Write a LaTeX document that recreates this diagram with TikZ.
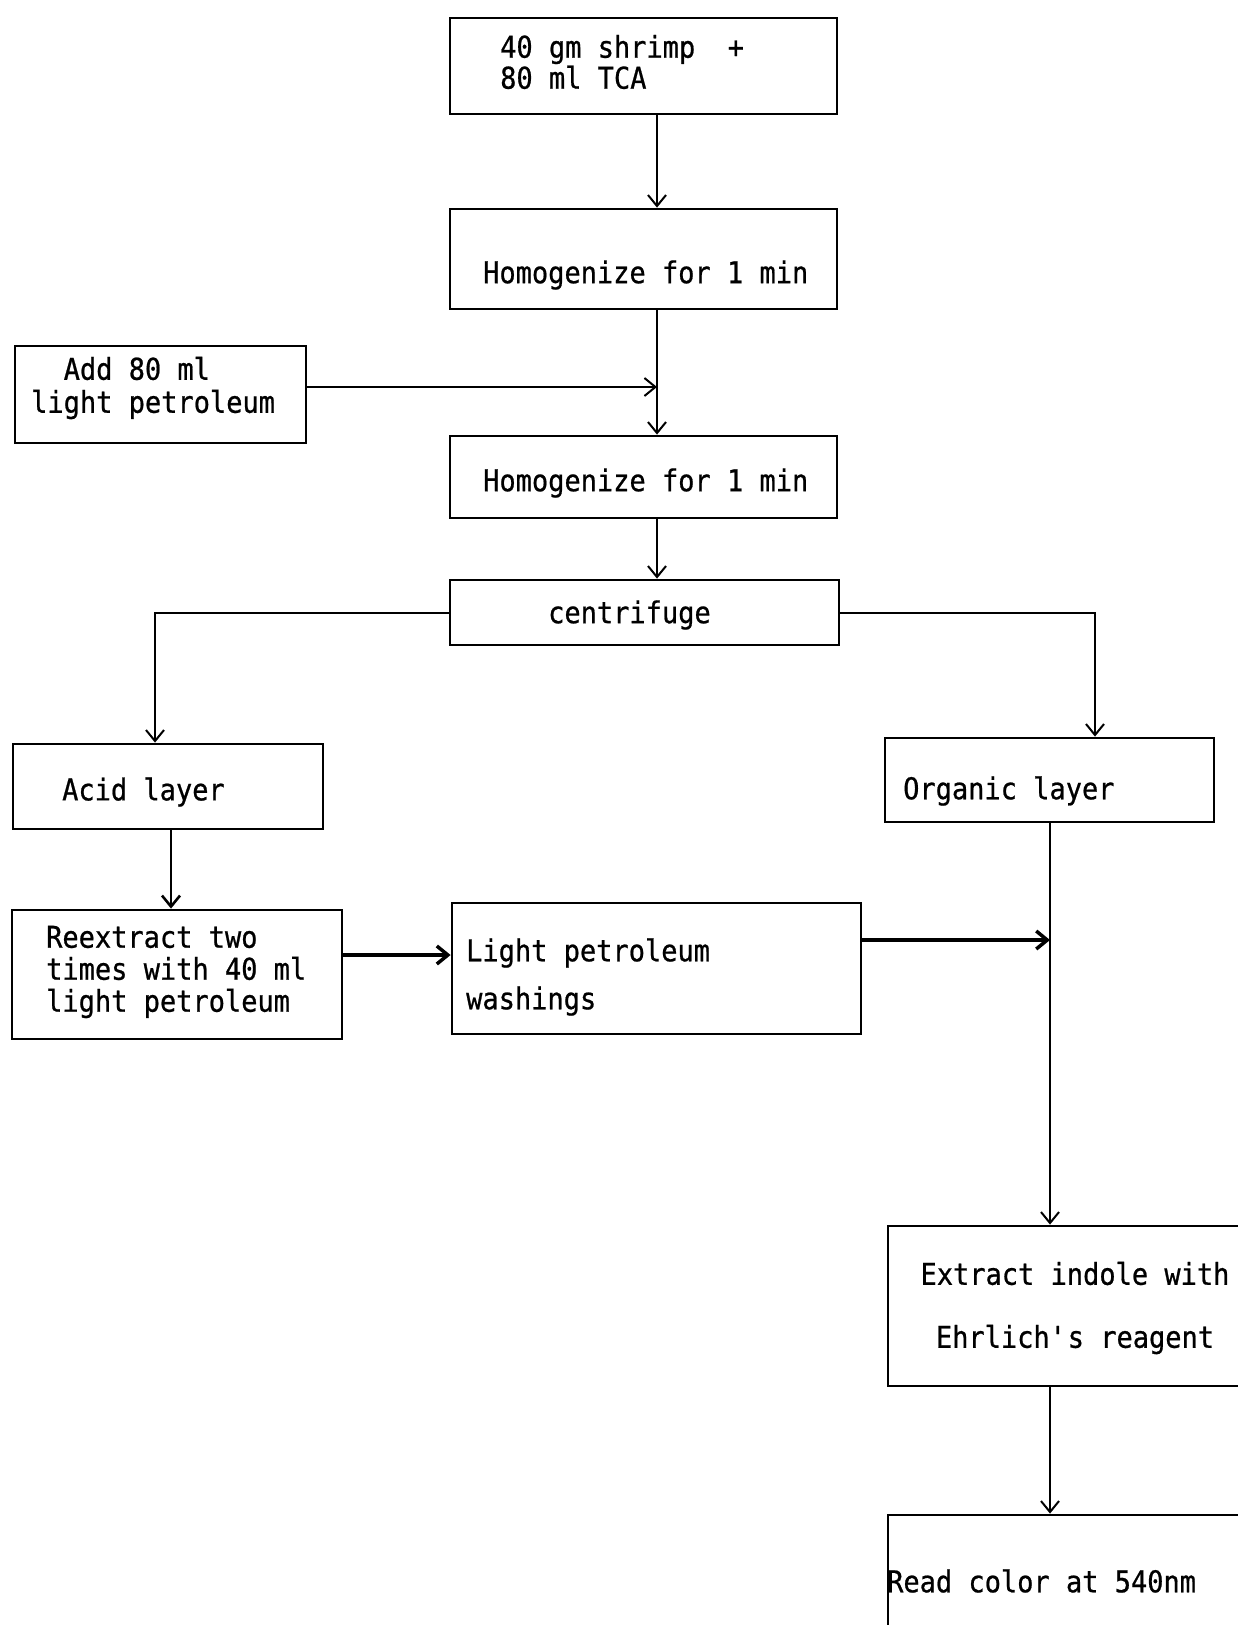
\documentclass[tikz,border=0pt]{standalone}
\usepackage{fontspec}
\newfontfamily\monofam[FakeStretch=0.9, FakeBold=0.7]{DejaVu Sans Mono}
\usetikzlibrary{arrows.meta}
\begin{document}
\begin{tikzpicture}[x=1pt,y=-1pt,
  pbox/.style={draw, line width=2.8pt, rectangle, inner sep=0pt},
  lbl/.style={font=\monofam\fontsize{30}{31}\selectfont, inner sep=0pt, anchor=west, align=left},
  conn/.style={line width=2pt},
  arr/.style={conn, -{Straight Barb[length=11pt,width=18pt]}},
  thickarr/.style={arr, line width=3.5pt}
]
\useasboundingbox (0,0) rectangle (1238,1625);
\fill[white] (0,0) rectangle (1238,1625);

% boxes
\node[pbox, minimum width=387pt, minimum height=96pt]  (b1)   at (643.5,66) {};
\node[pbox, minimum width=387pt, minimum height=100pt] (b2)   at (643.5,259) {};
\node[pbox, minimum width=291pt, minimum height=97pt]  (b0)   at (160.5,394.5) {};
\node[pbox, minimum width=387pt, minimum height=82pt]  (b3)   at (643.5,477) {};
\node[pbox, minimum width=389pt, minimum height=65pt]  (b4)   at (644.5,612.5) {};
\node[pbox, minimum width=310pt, minimum height=85pt]  (acid) at (168,786.5) {};
\node[pbox, minimum width=329pt, minimum height=84pt]  (org)  at (1049.5,780) {};
\node[pbox, minimum width=330pt, minimum height=129pt] (reex) at (177,974.5) {};
\node[pbox, minimum width=409pt, minimum height=131pt] (lpw)  at (656.5,968.5) {};
\node[pbox, minimum width=362pt, minimum height=160pt] (ext)  at (1069,1306) {};
\node[pbox, minimum width=362pt, minimum height=125pt] (read) at (1069,1577.5) {};

% labels
\node[lbl] (t1) at (500,62) {40 gm shrimp~~+\\80 ml TCA};
\node[lbl] (t2) at (483,275) {Homogenize for 1 min};
\node[lbl, font=\monofam\fontsize{30}{33}\selectfont] (t0) at (31,388) {\phantom{xx}Add 80 ml\\light petroleum};
\node[lbl] (t3) at (483,483) {Homogenize for 1 min};
\node[lbl] (t4) at (548,615) {centrifuge};
\node[lbl] (tacid) at (62,792) {Acid layer};
\node[lbl] (torg) at (903,791) {Organic layer};
\node[lbl, font=\monofam\fontsize{30}{32}\selectfont] (treex) at (46,972) {Reextract two\\times with 40 ml\\light petroleum};
\node[lbl, font=\monofam\fontsize{30}{48}\selectfont] (tlpw) at (466,977) {Light petroleum\\washings};
\node[lbl, anchor=center, align=center, font=\monofam\fontsize{30}{63}\selectfont] (text) at (1075,1308) {Extract indole with\\Ehrlich\textquotesingle s reagent};
\node[lbl] (tread) at (887,1581) {Read color at 540nm};

% helper coordinates
\coordinate (xm) at (657,0);
\coordinate (xl) at (155,0);
\coordinate (xr) at (1095,0);
\coordinate (xa) at (171,0);
\coordinate (xo) at (1050,0);
\coordinate (yr) at (0,955);
\coordinate (j1) at (657,387);
\coordinate (j2) at (1050,940);

% connectors
\draw[arr] (b1.south -| xm) -- (b2.north -| xm);
\draw[arr] (b2.south -| xm) -- (b3.north -| xm);
\draw[arr] (b0.east |- j1) -- (j1);
\draw[arr] (b3.south -| xm) -- (b4.north -| xm);
\draw[arr] (b4.west) -- (b4.west -| xl) -- (acid.north -| xl);
\draw[arr] (b4.east) -- (b4.east -| xr) -- (org.north -| xr);
\draw[arr, line width=2.6pt] (acid.south -| xa) -- (reex.north -| xa);
\draw[thickarr] (reex.east |- yr) -- (lpw.west |- yr);
\draw[thickarr] (lpw.east |- j2) -- (j2);
\draw[arr] (org.south -| xo) -- (ext.north -| xo);
\draw[arr] (ext.south -| xo) -- (read.north -| xo);
\end{tikzpicture}
\end{document}
